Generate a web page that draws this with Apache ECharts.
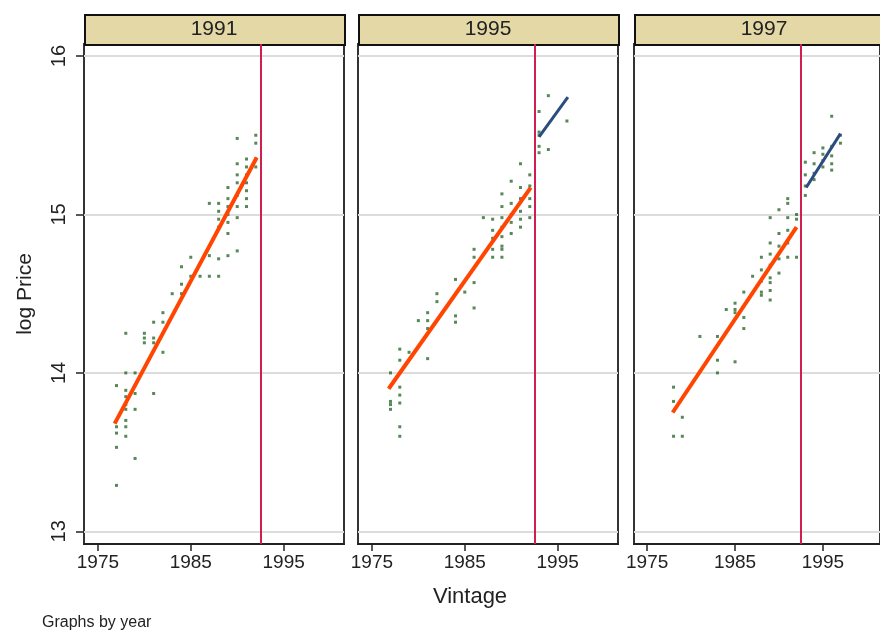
<!DOCTYPE html>
<html>
<head>
<meta charset="utf-8">
<script src="https://cdn.jsdelivr.net/npm/echarts@6/dist/echarts.min.js"></script>
<style>
  html, body { margin: 0; padding: 0; background: #fff; }
  #main { width: 880px; height: 633px; }
</style>
</head>
<body>
<div id="main"></div>
<script>
// panel titles (sale year)
const panelYears = ["1991", "1995", "1997"];

// vintage year where the structural break sits
const cutoff = 1992.5;

// axis ticks
const xTicks = [1975, 1985, 1995];
const yTicks = [13, 14, 15, 16];

// observed log prices, [vintage, log price]
const points1991 = [
  [1977, 13.92], [1977, 13.70], [1977, 13.66], [1977, 13.62], [1977, 13.53], [1977, 13.29],
  [1978, 14.25], [1978, 14.00], [1978, 13.89], [1978, 13.85], [1978, 13.80], [1978, 13.77],
  [1978, 13.70], [1978, 13.66], [1978, 13.60],
  [1979, 14.00], [1979, 13.87], [1979, 13.77], [1979, 13.46],
  [1980, 14.25], [1980, 14.22], [1980, 14.19],
  [1981, 14.32], [1981, 14.22], [1981, 14.19], [1981, 13.87],
  [1982, 14.38], [1982, 14.32], [1982, 14.13],
  [1983, 14.50],
  [1984, 14.67], [1984, 14.56], [1984, 14.50],
  [1985, 14.73], [1985, 14.61],
  [1986, 14.61],
  [1987, 15.07], [1987, 14.74], [1987, 14.61],
  [1988, 15.07], [1988, 15.02], [1988, 14.97], [1988, 14.92], [1988, 14.72], [1988, 14.61],
  [1989, 15.17], [1989, 15.10], [1989, 15.05], [1989, 15.00], [1989, 14.95], [1989, 14.88], [1989, 14.74],
  [1990, 15.48], [1990, 15.32], [1990, 15.25], [1990, 15.20], [1990, 15.12], [1990, 15.05],
  [1990, 14.98], [1990, 14.77],
  [1991, 15.35], [1991, 15.30], [1991, 15.25], [1991, 15.20], [1991, 15.15], [1991, 15.10], [1991, 15.05],
  [1992, 15.50], [1992, 15.45], [1992, 15.35], [1992, 15.30]
];
const points1995 = [
  [1977, 14.00], [1977, 13.82], [1977, 13.80], [1977, 13.77],
  [1978, 14.15], [1978, 14.08], [1978, 13.91], [1978, 13.86], [1978, 13.81], [1978, 13.66], [1978, 13.60],
  [1979, 14.13],
  [1980, 14.33],
  [1981, 14.38], [1981, 14.33], [1981, 14.28], [1981, 14.09],
  [1982, 14.50], [1982, 14.45],
  [1984, 14.59], [1984, 14.36], [1984, 14.32],
  [1985, 14.51],
  [1986, 14.78], [1986, 14.73], [1986, 14.57], [1986, 14.41],
  [1987, 14.98],
  [1988, 14.97], [1988, 14.90], [1988, 14.85], [1988, 14.78], [1988, 14.73],
  [1989, 15.13], [1989, 15.05], [1989, 14.98], [1989, 14.92], [1989, 14.86], [1989, 14.80],
  [1989, 14.78], [1989, 14.73],
  [1990, 15.21], [1990, 15.07], [1990, 15.00], [1990, 14.95], [1990, 14.88],
  [1991, 15.32], [1991, 15.17], [1991, 15.10], [1991, 15.02], [1991, 14.97], [1991, 14.92],
  [1992, 15.25], [1992, 15.18], [1992, 15.10], [1992, 15.05], [1992, 14.98],
  [1993, 15.65], [1993, 15.52], [1993, 15.50], [1993, 15.43], [1993, 15.39],
  [1994, 15.75], [1994, 15.41],
  [1996, 15.59]
];
const points1997 = [
  [1978, 13.91], [1978, 13.82], [1978, 13.60],
  [1979, 13.72], [1979, 13.60],
  [1981, 14.23],
  [1983, 14.23], [1983, 14.08], [1983, 14.00],
  [1984, 14.40],
  [1985, 14.44], [1985, 14.40], [1985, 14.38], [1985, 14.07],
  [1986, 14.51], [1986, 14.35], [1986, 14.28],
  [1987, 14.61],
  [1988, 14.73], [1988, 14.65], [1988, 14.58], [1988, 14.51], [1988, 14.49],
  [1989, 14.98], [1989, 14.82], [1989, 14.75], [1989, 14.68], [1989, 14.60], [1989, 14.57],
  [1989, 14.52], [1989, 14.46],
  [1990, 15.03], [1990, 14.88], [1990, 14.80], [1990, 14.72], [1990, 14.63],
  [1991, 15.10], [1991, 15.07], [1991, 14.98], [1991, 14.90], [1991, 14.82], [1991, 14.73],
  [1992, 15.00], [1992, 14.97], [1992, 14.73],
  [1993, 15.33], [1993, 15.25], [1993, 15.18], [1993, 15.12],
  [1994, 15.39], [1994, 15.32], [1994, 15.26], [1994, 15.22],
  [1995, 15.42], [1995, 15.38], [1995, 15.34], [1995, 15.30],
  [1996, 15.62], [1996, 15.43], [1996, 15.37], [1996, 15.32], [1996, 15.28],
  [1997, 15.50], [1997, 15.45]
];

// fitted lines, before and after the break
const fitBefore1991 = [[1976.8, 13.68], [1992.1, 15.36]];
const fitBefore1995 = [[1976.8, 13.90], [1992.1, 15.17]];
const fitAfter1995 = [[1993.0, 15.49], [1996.1, 15.74]];
const fitBefore1997 = [[1977.9, 13.75], [1992.0, 14.92]];
const fitAfter1997 = [[1993.1, 15.17], [1997.0, 15.51]];

const scatterSets = [points1991, points1995, points1997];
const fitsBefore = [fitBefore1991, fitBefore1995, fitBefore1997];
const fitsAfter = [null, fitAfter1995, fitAfter1997];

const font = "Liberation Sans, Arial, sans-serif";
const panelLeft = [84, 358, 634];
const panelWidth = 260;
const ink = "#222";

let myChart = echarts.init(document.getElementById("main"));

const grids = [], xAxes = [], yAxes = [], series = [], graphics = [];

panelYears.forEach((yr, i) => {
  grids.push({
    left: panelLeft[i], width: panelWidth, top: 44, bottom: 89,
    show: true, borderColor: "#333", borderWidth: 2, backgroundColor: "transparent"
  });
  xAxes.push({
    gridIndex: i, type: "value", min: 1973.5, max: 2001.5,
    axisLine: { show: true, lineStyle: { color: ink, width: 2 } },
    axisTick: { show: true, customValues: xTicks, length: 7, lineStyle: { color: ink, width: 1.5 } },
    axisLabel: {
      customValues: xTicks, fontSize: 19, color: ink, fontFamily: font, margin: 9,
      formatter: (v) => String(v)
    },
    splitLine: { show: false }
  });
  yAxes.push({
    gridIndex: i, type: "value", min: 12.92, max: 16.076,
    axisLine: { show: false },
    axisTick: { show: i === 0, customValues: yTicks, length: 8, lineStyle: { color: ink, width: 1.5 } },
    axisLabel: { show: i === 0, customValues: yTicks, rotate: 90, fontSize: 20, color: ink, fontFamily: font, margin: 15 },
    splitLine: { show: true, lineStyle: { color: "#dcdcdc", width: 2 } },
    name: i === 0 ? "log Price" : "",
    nameLocation: "middle", nameRotate: 90, nameGap: 48,
    nameTextStyle: { fontSize: 21, color: ink, fontFamily: font }
  });
  series.push({
    type: "scatter", xAxisIndex: i, yAxisIndex: i,
    data: scatterSets[i], symbol: "rect", symbolSize: 3,
    itemStyle: { color: "#2d6a2d", opacity: 0.8 },
    silent: true, z: 2,
    markLine: {
      silent: true, symbol: ["none", "none"], label: { show: false },
      lineStyle: { color: "#cf1f4f", width: 2, type: "solid" },
      data: [{ xAxis: cutoff }]
    }
  });
  series.push({
    type: "line", xAxisIndex: i, yAxisIndex: i, data: fitsBefore[i],
    showSymbol: false, lineStyle: { color: "#ff4500", width: 4 }, z: 3
  });
  if (fitsAfter[i]) {
    series.push({
      type: "line", xAxisIndex: i, yAxisIndex: i, data: fitsAfter[i],
      showSymbol: false, lineStyle: { color: "#2b4c7e", width: 3 }, z: 3
    });
  }
  // strip header
  graphics.push({
    type: "rect", left: panelLeft[i], top: 14,
    shape: { width: panelWidth, height: 30 },
    style: { fill: "#e3d8a6", stroke: "#111", lineWidth: 2 }
  });
  graphics.push({
    type: "text", x: panelLeft[i] + panelWidth / 2, y: 29,
    style: { text: yr, fontSize: 21, fontFamily: font, fill: ink, align: "center", verticalAlign: "middle" }
  });
});

graphics.push({
  type: "text", x: 470, y: 597,
  style: { text: "Vintage", fontSize: 22, fontFamily: font, fill: ink, align: "center", verticalAlign: "middle" }
});
graphics.push({
  type: "text", x: 42, y: 623,
  style: { text: "Graphs by year", fontSize: 16, fontFamily: font, fill: ink, align: "left", verticalAlign: "middle" }
});

myChart.setOption({
  animation: false,
  grid: grids,
  xAxis: xAxes,
  yAxis: yAxes,
  series: series,
  graphic: graphics
});
</script>
</body>
</html>
